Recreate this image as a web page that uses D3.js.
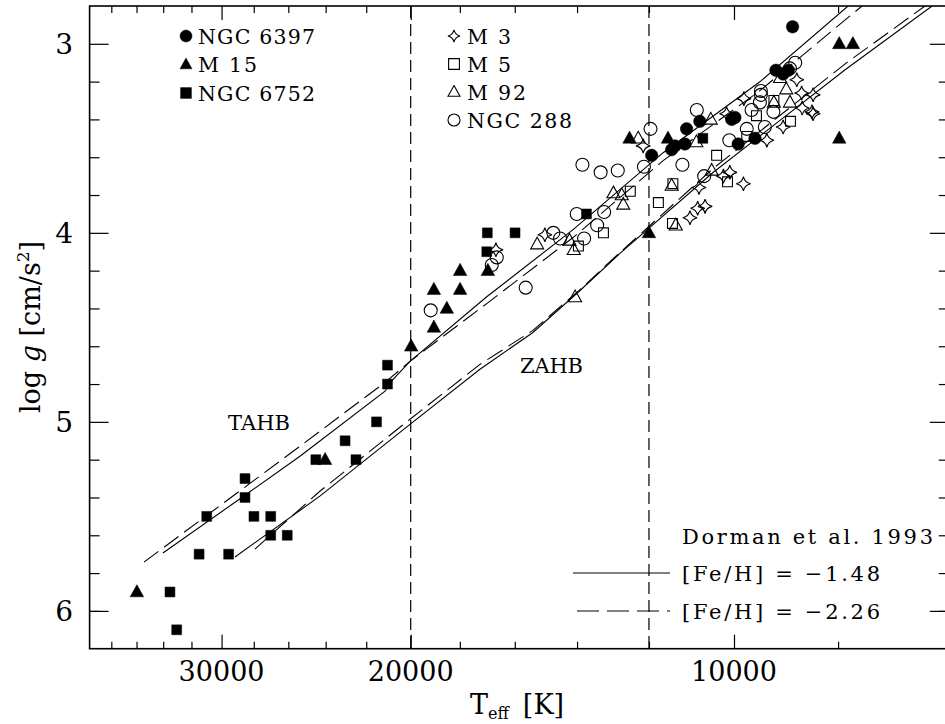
<!DOCTYPE html>
<html><head><meta charset="utf-8">
<script src="https://cdn.jsdelivr.net/npm/d3@7"></script>
<style>
body{margin:0;background:#fff}
svg{display:block}
text{font-family:"DejaVu Serif",serif;fill:#000}
</style>
</head><body>
<svg id="c" width="945" height="724"></svg>
<script>
// ---------- data ----------
const xMajorTicks = [30000, 20000, 10000];
const xMinorTicks = [38000,36000,34000,32000,28000,26000,24000,22000,18000,16000,14000,12000,8000];
const yMajorTicks = [3, 4, 5, 6];
const yMinorTicks = [3.2,3.4,3.6,3.8,4.2,4.4,4.6,4.8,5.2,5.4,5.6,5.8,6.0];
const boundaryTeff = [20000, 12000];

// NGC 6397 (filled circles)
const ngc6397 = [[8820,2.91],[9140,3.14],[8900,3.14],[9000,3.16],[10050,3.40],[9980,3.39],[11070,3.45],[10760,3.41],[11110,3.53],[11430,3.56],[11350,3.54],[11930,3.59],[9910,3.53],[9560,3.50]];
// M 15 (filled triangles)
const m15 = [[7980,3.0],[7750,3.0],[7980,3.5],[12510,3.5],[11520,3.5],[12000,4.0],[17990,4.2],[19030,4.3],[17990,4.3],[18510,4.4],[16950,4.2],[19030,4.5],[19980,4.6],[24030,5.2],[35970,5.9]];
// NGC 6752 (filled squares)
const ngc6752 = [[10690,3.5],[13720,3.9],[16970,4.0],[15990,4.0],[16990,4.1],[21020,4.7],[21020,4.8],[21520,5.0],[23020,5.1],[24510,5.2],[22490,5.2],[28530,5.3],[28530,5.4],[30970,5.5],[27990,5.5],[27000,5.5],[27000,5.6],[26060,5.6],[31480,5.7],[29550,5.7],[33510,5.9],[33030,6.1]];
// M 3 (stars)
const m3 = [[12150,3.54],[15000,4.01],[16660,4.09],[10990,3.92],[8740,3.19],[8650,3.26],[8440,3.27],[9790,3.29],[10160,3.37],[8460,3.36],[8440,3.37],[8640,3.34],[9000,3.44],[9320,3.51],[10230,3.70],[10090,3.68],[9800,3.74],[10780,3.76],[10640,3.86],[10810,3.87]];
// M 5 (open squares)
const m5 = [[12490,3.78],[11760,3.84],[11400,3.74],[11410,3.95],[13230,4.00],[13960,4.07],[10380,3.59],[8860,3.41],[9180,3.30],[9530,3.38],[9730,3.49],[10140,3.73]];
// M 92 (open triangles)
const m92 = [[12950,3.79],[12720,3.80],[12680,3.85],[15250,4.06],[14230,4.04],[14100,4.09],[14060,4.34],[11430,3.75],[11330,3.96],[12280,3.50],[10510,3.40],[10840,3.52],[8940,3.24],[8870,3.31],[9180,3.31],[9060,3.18],[10490,3.67]];
// NGC 288 (open circles)
const ngc288 = [[19160,4.41],[15630,4.29],[16810,4.17],[16630,4.13],[14730,4.00],[14520,4.03],[13790,4.03],[14010,3.90],[13210,3.89],[13410,3.96],[13840,3.64],[13310,3.68],[12830,3.67],[12130,3.65],[11170,3.64],[11960,3.45],[10830,3.35],[10660,3.70],[8770,3.10],[8870,3.13],[9440,3.25],[9440,3.27],[9630,3.35],[9460,3.31],[9190,3.36],[9360,3.44],[9730,3.45],[10100,3.51]];

// Dorman et al. 1993 tracks
const tahbSolid = [[34020,5.694],[28530,5.388],[25360,5.182],[21130,4.838],[20770,4.775],[20030,4.680],[16980,4.337],[14120,3.983],[11640,3.576],[9460,3.201],[7830,2.80]];
const tahbDashed = [[35430,5.742],[25360,5.129],[21130,4.791],[20030,4.680],[16980,4.373],[14120,4.025],[11640,3.618],[9460,3.248],[7600,2.80]];
const zahbSolid = [[29150,5.715],[24300,5.393],[20030,5.013],[17240,4.722],[15390,4.527],[13910,4.305],[12770,4.109],[10460,3.681],[7880,3.137],[6540,2.80]];
const zahbDashed = [[27930,5.673],[24300,5.367],[20030,4.986],[17240,4.696],[15390,4.516],[13910,4.300],[12770,4.104],[10460,3.660],[7880,3.106],[6640,2.80]];

const legendLeft = [["circleF","NGC 6397"],["triF","M 15"],["sqF","NGC 6752"]];
const legendRight = [["star","M 3"],["sqO","M 5"],["triO","M 92"],["circleO","NGC 288"]];

// ---------- layout ----------
const X0 = 89.6, X1 = 948.8, Y0 = 6, Y1 = 648.7;
const svg = d3.select("#c");
const x = d3.scaleLog().domain([Math.pow(10,4.6), Math.pow(10,3.8)]).range([X0, X1]);
const y = d3.scaleLinear().domain([2.8, 6.2]).range([Y0, Y1]);

svg.append("defs").append("clipPath").attr("id","clip")
  .append("rect").attr("x",X0).attr("y",Y0).attr("width",X1-X0).attr("height",Y1-Y0);

function addAxis(gen, tx, ty, ticks, len){
  const g = svg.append("g").attr("transform",`translate(${tx},${ty})`)
    .call(gen.tickValues(ticks).tickSizeInner(len).tickSizeOuter(0).tickFormat(""));
  g.select(".domain").remove();
  g.selectAll("line").attr("stroke","#000").attr("stroke-width",1.2);
  return g;
}
addAxis(d3.axisTop(x), 0, Y1, xMajorTicks, 14);
addAxis(d3.axisTop(x), 0, Y1, xMinorTicks, 7);
addAxis(d3.axisBottom(x), 0, Y0, xMajorTicks, 14);
addAxis(d3.axisBottom(x), 0, Y0, xMinorTicks, 7);
addAxis(d3.axisRight(y), X0, 0, yMajorTicks, 19);
addAxis(d3.axisRight(y), X0, 0, yMinorTicks, 10);
addAxis(d3.axisLeft(y), X1, 0, yMajorTicks, 19);
addAxis(d3.axisLeft(y), X1, 0, yMinorTicks, 10);

svg.append("rect").attr("x",X0).attr("y",Y0).attr("width",X1-X0).attr("height",Y1-Y0)
  .attr("fill","none").attr("stroke","#000").attr("stroke-width",1.6);

// tick labels
svg.append("g").selectAll("text").data(xMajorTicks).join("text")
  .attr("x",d=>x(d)).attr("y",681).attr("text-anchor","middle")
  .attr("font-size",27).text(d=>d);
svg.append("g").selectAll("text").data(yMajorTicks).join("text")
  .attr("x",73).attr("y",d=>y(d)).attr("dy","0.36em").attr("text-anchor","end")
  .attr("font-size",28).text(d=>d);

// axis titles
const xt = svg.append("text").attr("x",470).attr("y",714).attr("font-size",27);
xt.append("tspan").text("T");
xt.append("tspan").attr("font-size",16).attr("dy",5).text("eff");
xt.append("tspan").attr("dy",-5).attr("dx",14).text("[K]");

const yt = svg.append("text").attr("transform","translate(40,327) rotate(-90)")
  .attr("text-anchor","middle").attr("font-size",27);
yt.append("tspan").text("log ");
yt.append("tspan").attr("font-style","italic").text("g");
yt.append("tspan").text(" [cm/s");
yt.append("tspan").attr("font-size",17).attr("dy",-11).text("2");
yt.append("tspan").attr("dy",11).text("]");

// boundary dashed lines
svg.append("g").selectAll("line").data(boundaryTeff).join("line")
  .attr("x1",d=>x(d)).attr("x2",d=>x(d)).attr("y1",Y0).attr("y2",Y1)
  .attr("stroke","#000").attr("stroke-width",1.2).attr("stroke-dasharray","12,6");

// tracks
const line = d3.line().x(d=>x(d[0])).y(d=>y(d[1]));
const tracks = svg.append("g").attr("clip-path","url(#clip)");
[[tahbSolid,null],[zahbSolid,null],[tahbDashed,"18,7"],[zahbDashed,"18,7"]].forEach(([d,dash])=>{
  tracks.append("path").datum(d).attr("d",line).attr("fill","none")
    .attr("stroke","#000").attr("stroke-width",1.1).attr("stroke-dasharray",dash);
});

// markers
function markerPath(type, s){
  const r = s/2;
  if(type.startsWith("circle")) return `M${r},0A${r},${r} 0 1,1 ${-r},0A${r},${r} 0 1,1 ${r},0Z`;
  if(type.startsWith("sq")) { const h=s*0.45; return `M${-h},${-h}H${h}V${h}H${-h}Z`; }
  if(type.startsWith("tri")) { const w=s*0.5, h=s*0.9; return `M0,${-h*0.6}L${w},${h*0.4}L${-w},${h*0.4}Z`; }
  if(type==="star"){
    const R=s*0.55, a=s*0.2;
    return `M0,${-R}Q${a*0.5},${-a*0.5} ${R},0Q${a*0.5},${a*0.5} 0,${R}Q${-a*0.5},${a*0.5} ${-R},0Q${-a*0.5},${-a*0.5} 0,${-R}Z`;
  }
}
function drawSet(data, type, size){
  const filled = type.endsWith("F");
  svg.append("g").selectAll("path").data(data).join("path")
    .attr("transform",d=>`translate(${x(d[0])},${y(d[1])})`)
    .attr("d",markerPath(type,size))
    .attr("fill",filled?"#000":"none")
    .attr("stroke","#000").attr("stroke-width",filled?0.5:1.1);
}
drawSet(ngc288,"circleO",13);
drawSet(m92,"triO",13);
drawSet(m5,"sqO",11);
drawSet(m3,"star",13);
drawSet(ngc6752,"sqF",11);
drawSet(m15,"triF",13.5);
drawSet(ngc6397,"circleF",12.5);

// legends
function legend(items, mx, tx, y0, dy, len){
  items.forEach(([t,label],i)=>{
    const yy = y0 + i*dy;
    const filled = t.endsWith("F");
    svg.append("path").attr("transform",`translate(${mx},${yy})`).attr("d",markerPath(t, t==="star"?11:12))
      .attr("fill",filled?"#000":"none").attr("stroke","#000").attr("stroke-width",filled?0.5:1.1);
    svg.append("text").attr("x",tx).attr("y",yy+7.5).attr("font-size",20.5)
      .attr("textLength",len[i]).attr("lengthAdjust","spacing").text(label);
  });
}
legend(legendLeft,186,198,36,28.5,[117,59,117]);
legend(legendRight,454,467,36,28,[44,44,59,105]);

// curve labels
svg.append("text").attr("x",228).attr("y",430).attr("font-size",21).attr("textLength",62).attr("lengthAdjust","spacing").text("TAHB");
svg.append("text").attr("x",520).attr("y",373).attr("font-size",21).attr("textLength",63).attr("lengthAdjust","spacing").text("ZAHB");

// model legend
svg.append("text").attr("x",682).attr("y",544).attr("font-size",21).attr("textLength",251).attr("lengthAdjust","spacing").text("Dorman et al. 1993");
svg.append("text").attr("x",682).attr("y",581).attr("font-size",21).attr("textLength",198).attr("lengthAdjust","spacing").text("[Fe/H] = \u22121.48");
svg.append("text").attr("x",682).attr("y",619).attr("font-size",21).attr("textLength",198).attr("lengthAdjust","spacing").text("[Fe/H] = \u22122.26");
svg.append("line").attr("x1",573).attr("x2",670).attr("y1",573).attr("y2",573).attr("stroke","#000").attr("stroke-width",1.1);
svg.append("line").attr("x1",577).attr("x2",670).attr("y1",611).attr("y2",611).attr("stroke","#000").attr("stroke-width",1.1).attr("stroke-dasharray","22,8");
</script>
</body></html>
